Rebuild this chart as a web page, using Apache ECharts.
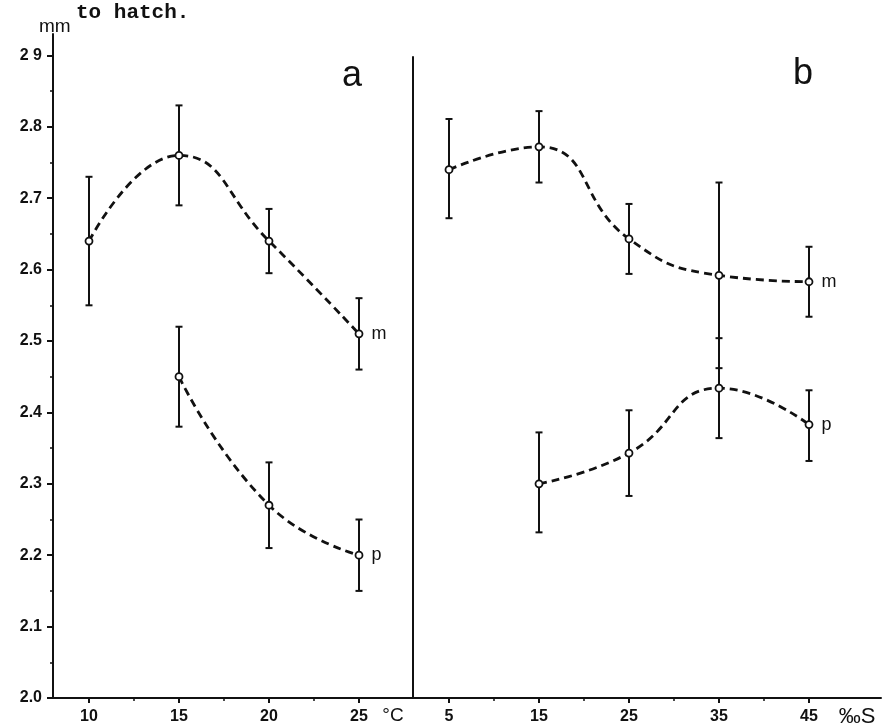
<!DOCTYPE html>
<html>
<head>
<meta charset="utf-8">
<script src="https://cdn.jsdelivr.net/npm/echarts@6/dist/echarts.min.js"></script>
<style>html,body{margin:0;padding:0;background:#fff}#c{width:882px;height:726px}</style>
</head>
<body>
<div id="c"></div>
<script>
// ---- data ----
const tempTicks = [10, 15, 20, 25];
const tempMinorTicks = [12.5, 17.5, 22.5];
const salTicks = [5, 15, 25, 35, 45];
const salMinorTicks = [10, 20, 30, 40];
const yTickValues = [2.0, 2.1, 2.2, 2.3, 2.4, 2.5, 2.6, 2.7, 2.8, 2.9];
const yTickLabels = ['2.0', '2.1', '2.2', '2.3', '2.4', '2.5', '2.6', '2.7', '2.8', '2 9'];
const yMinorTicks = [2.05, 2.15, 2.25, 2.35, 2.45, 2.55, 2.65, 2.75, 2.85];

const tempMX = [10, 15, 20, 25];
const tempM = [2.64, 2.76, 2.64, 2.51];
const tempMLow = [2.55, 2.69, 2.595, 2.46];
const tempMHigh = [2.73, 2.83, 2.685, 2.56];

const tempPX = [15, 20, 25];
const tempP = [2.45, 2.27, 2.20];
const tempPLow = [2.38, 2.21, 2.15];
const tempPHigh = [2.52, 2.33, 2.25];

const salMX = [5, 15, 25, 35, 45];
const salM = [2.74, 2.772, 2.643, 2.592, 2.583];
const salMLow = [2.672, 2.722, 2.594, 2.462, 2.534];
const salMHigh = [2.811, 2.822, 2.692, 2.722, 2.632];

const salPX = [15, 25, 35, 45];
const salP = [2.30, 2.343, 2.434, 2.383];
const salPLow = [2.232, 2.283, 2.364, 2.332];
const salPHigh = [2.372, 2.403, 2.504, 2.431];

// ---- helpers ----
const zip2 = (xs, ys) => xs.map((x, i) => [x, ys[i]]);
const zip3 = (xs, lo, hi) => xs.map((x, i) => [x, lo[i], hi[i]]);
const BLACK = '#111';

function errRender(params, api) {
  const x = api.value(0);
  const lo = api.coord([x, api.value(1)]);
  const hi = api.coord([x, api.value(2)]);
  const cw = 3.5;
  const st = { stroke: BLACK, lineWidth: 2 };
  return {
    type: 'group',
    children: [
      { type: 'line', shape: { x1: lo[0], y1: lo[1], x2: hi[0], y2: hi[1] }, style: st },
      { type: 'line', shape: { x1: lo[0] - cw, y1: lo[1], x2: lo[0] + cw, y2: lo[1] }, style: st },
      { type: 'line', shape: { x1: hi[0] - cw, y1: hi[1], x2: hi[0] + cw, y2: hi[1] }, style: st }
    ]
  };
}

function errSeries(xi, yi, data) {
  return { type: 'custom', xAxisIndex: xi, yAxisIndex: yi, renderItem: errRender, data: data, z: 2, silent: true };
}
function lineSeries(xi, yi, data, name) {
  return {
    type: 'line', xAxisIndex: xi, yAxisIndex: yi, data: data, smooth: 0.5,
    symbol: 'circle', symbolSize: 7, z: 3,
    lineStyle: { color: BLACK, width: 2.8, type: [8, 5] },
    itemStyle: { color: '#fff', borderColor: BLACK, borderWidth: 1.8 },
    label: {
      show: true, position: 'right', distance: 8, color: BLACK, fontSize: 18,
      fontFamily: 'Liberation Sans',
      formatter: (p) => (p.dataIndex === data.length - 1 ? name : '')
    },
    emphasis: { disabled: true }, silent: true
  };
}

const axisLine = { show: true, lineStyle: { color: BLACK, width: 2 } };
const labelStyle = { color: BLACK, fontSize: 16, fontWeight: 'bold', fontFamily: 'Liberation Sans' };

function majorX(grid, min, max, ticks) {
  return {
    type: 'value', gridIndex: grid, min: min, max: max, position: 'bottom',
    axisLine: axisLine,
    axisTick: { show: true, customValues: ticks, length: 5, lineStyle: { color: BLACK, width: 2 } },
    axisLabel: Object.assign({ show: true, customValues: ticks, margin: 11 }, labelStyle),
    splitLine: { show: false }
  };
}
function minorX(grid, min, max, ticks) {
  return {
    type: 'value', gridIndex: grid, min: min, max: max, position: 'bottom',
    axisLine: { show: false },
    axisTick: { show: true, customValues: ticks, length: 3, lineStyle: { color: BLACK, width: 1.5 } },
    axisLabel: { show: false },
    splitLine: { show: false }
  };
}

const chart = echarts.init(document.getElementById('c'), null, { renderer: 'canvas' });
chart.setOption({
  animation: false,
  backgroundColor: '#fff',
  grid: [
    { left: 53, top: 34, width: 360, height: 664 },
    { left: 413, top: 57, width: 468, height: 641 }
  ],
  xAxis: [
    majorX(0, 8, 28, tempTicks),
    minorX(0, 8, 28, tempMinorTicks),
    majorX(1, 1, 53, salTicks),
    minorX(1, 1, 53, salMinorTicks)
  ],
  yAxis: [
    {
      type: 'value', gridIndex: 0, min: 2.0, max: 2.93, position: 'left',
      axisLine: axisLine,
      axisTick: { show: true, customValues: yTickValues, length: 6, lineStyle: { color: BLACK, width: 2 } },
      axisLabel: Object.assign({
        show: true, customValues: yTickValues, margin: 11,
        formatter: (v) => {
          const i = yTickValues.findIndex(t => Math.abs(t - v) < 1e-6);
          return i >= 0 ? yTickLabels[i] : '';
        }
      }, labelStyle),
      splitLine: { show: false }
    },
    {
      type: 'value', gridIndex: 0, min: 2.0, max: 2.93, position: 'left',
      axisLine: { show: false },
      axisTick: { show: true, customValues: yMinorTicks, length: 3, lineStyle: { color: BLACK, width: 1.5 } },
      axisLabel: { show: false },
      splitLine: { show: false }
    },
    {
      type: 'value', gridIndex: 1, min: 2.0, max: 2.8978, position: 'left',
      axisLine: axisLine,
      axisTick: { show: false }, axisLabel: { show: false }, splitLine: { show: false }
    }
  ],
  graphic: [
    { type: 'text', x: 76, y: 13, style: { text: 'to hatch.', font: 'bold 21px "Liberation Mono"', fill: BLACK, verticalAlign: 'middle' } },
    { type: 'text', x: 39, y: 27, style: { text: 'mm', font: '19px "Liberation Sans"', fill: BLACK, verticalAlign: 'middle' } },
    { type: 'text', x: 352, y: 76, style: { text: 'a', font: '36px "Liberation Sans"', fill: BLACK, align: 'center', verticalAlign: 'middle' } },
    { type: 'text', x: 803, y: 74, style: { text: 'b', font: '36px "Liberation Sans"', fill: BLACK, align: 'center', verticalAlign: 'middle' } },
    { type: 'text', x: 393, y: 716, style: { text: '°C', font: '19px "Liberation Sans"', fill: BLACK, align: 'center', verticalAlign: 'middle' } },
    { type: 'text', x: 857, y: 717, style: { text: '‰S', font: '22px "Liberation Sans"', fill: BLACK, align: 'center', verticalAlign: 'middle' } }
  ],
  series: [
    errSeries(0, 0, zip3(tempMX, tempMLow, tempMHigh)),
    errSeries(0, 0, zip3(tempPX, tempPLow, tempPHigh)),
    errSeries(2, 2, zip3(salMX, salMLow, salMHigh)),
    errSeries(2, 2, zip3(salPX, salPLow, salPHigh)),
    lineSeries(0, 0, zip2(tempMX, tempM), 'm'),
    lineSeries(0, 0, zip2(tempPX, tempP), 'p'),
    lineSeries(2, 2, zip2(salMX, salM), 'm'),
    lineSeries(2, 2, zip2(salPX, salP), 'p')
  ]
});
</script>
</body>
</html>
